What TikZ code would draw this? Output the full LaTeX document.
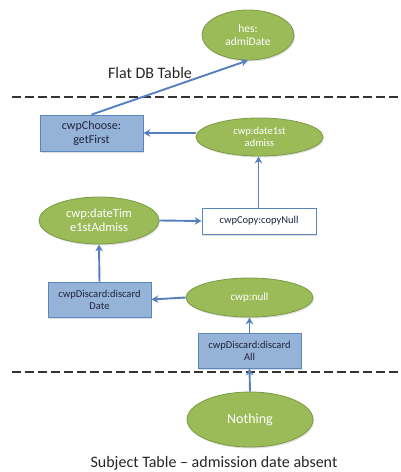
\documentclass[tikz,border=0pt]{standalone}
\usepackage{fontspec}
\setmainfont{Carlito}
\usetikzlibrary{shapes.geometric,arrows.meta,shadows}
\definecolor{eFill}{HTML}{9BBB59}
\definecolor{eDraw}{HTML}{7A9A45}
\definecolor{bFill}{HTML}{95B3D7}
\definecolor{bDraw}{HTML}{5B86C0}
\definecolor{arr}{HTML}{5580C0}
\definecolor{dtext}{HTML}{1F2540}
\tikzset{
  oval/.style={ellipse, draw=eDraw, line width=0.8pt, fill=eFill, inner sep=0pt, align=center,
    text=white, font=\fontsize{10.5}{12}\selectfont,
    drop shadow={shadow xshift=1pt, shadow yshift=-1.5pt, opacity=0.25}},
  box/.style={rectangle, draw=bDraw, line width=0.8pt, fill=bFill, inner sep=0pt, align=center,
    text=dtext, font=\fontsize{10.5}{12}\selectfont,
    drop shadow={shadow xshift=1pt, shadow yshift=-1.5pt, opacity=0.25}},
  whitebox/.style={box, fill=white},
  conn/.style={draw=arr, line width=1.9pt, -{Stealth[length=7pt,width=7.5pt]}},
  divider/.style={draw=black!80, line width=2.4pt, dash pattern=on 8.5pt off 4.5pt},
  caption/.style={font=\fontsize{16}{18}\selectfont, text=black!85, inner sep=0pt}
}
\begin{document}
\begin{tikzpicture}[x=1pt,y=-1pt]
\useasboundingbox (0,0) rectangle (401,472);
% dividers
\coordinate (d1a) at (12,97);
\coordinate (d1b) at (401,97);
\coordinate (d2a) at (12,372);
\coordinate (d2b) at (401,372);
\draw[divider] (d1a) -- (d1b);
\draw[divider] (d2a) -- (d2b);
% captions
\node[caption] (flat) at (150,73) {Flat DB Table};
\node[caption] (subj) at (214,463) {Subject Table – admission date absent};
% nodes
\node[oval, minimum width=92pt, minimum height=50pt, font=\fontsize{11.5}{13}\selectfont] (hes) at (248,35) {hes:\\admiDate};
\node[box, minimum width=103pt, minimum height=36pt, font=\fontsize{12}{14}\selectfont] (choose) at (91.5,133) {cwpChoose:\\getFirst};
\node[oval, minimum width=127pt, minimum height=38pt] (d1st) at (259.5,137) {cwp:date1st\\admiss};
\node[oval, minimum width=120pt, minimum height=47pt, font=\fontsize{12.5}{14}\selectfont] (dtime) at (99,220.5) {cwp:dateTim\\e1stAdmiss};
\node[whitebox, minimum width=114pt, minimum height=26pt] (copy) at (259,221) {cwpCopy:copyNull};
\node[box, minimum width=103pt, minimum height=35pt] (ddate) at (99.5,299.5) {cwpDiscard:discard\\Date};
\node[oval, minimum width=127pt, minimum height=39pt, font=\fontsize{11}{13}\selectfont] (null) at (249.5,297.5) {cwp:null};
\node[box, minimum width=103pt, minimum height=35pt] (dall) at (249.5,350.5) {cwpDiscard:discard\\All};
\node[oval, minimum width=126pt, minimum height=55pt, font=\fontsize{14}{16}\selectfont] (nothing) at (250,419.5) {Nothing};
% connectors
\draw[conn] (choose.north) -- (hes.south);
\draw[conn] (d1st.west |- choose.east) -- (choose.east);
\draw[conn] (copy.north -| d1st.south) ++(-1,0) -- ([xshift=-1pt]d1st.south);
\draw[conn] (dtime.east) -- (copy.west);
\draw[conn] (ddate.north) -- (dtime.south);
\draw[conn] (null.west) -- (ddate.east);
\draw[conn] (dall.north) -- (null.south);
\draw[conn] (nothing.north) -- (dall.south);
\end{tikzpicture}
\end{document}
